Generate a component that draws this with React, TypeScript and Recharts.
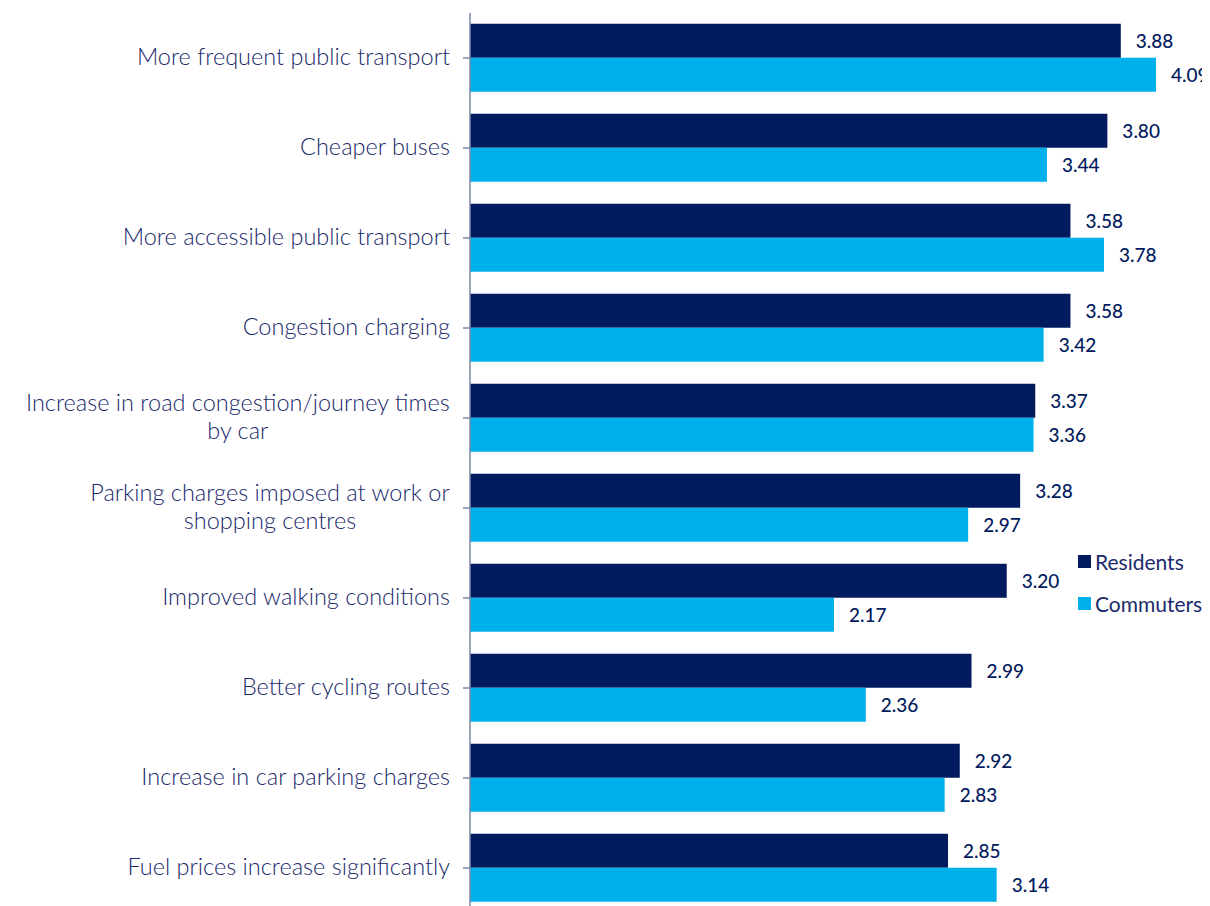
import React from "react";
import { BarChart, Bar, XAxis, YAxis, LabelList, Legend } from "recharts";

if (typeof document !== "undefined") {
  document.body.style.overflow = "hidden";
}

const categories = [
  "More frequent public transport",
  "Cheaper buses",
  "More accessible public transport",
  "Congestion charging ",
  "Increase in road congestion/journey times|by car",
  "Parking charges imposed at work or|shopping centres",
  "Improved walking conditions",
  "Better cycling routes",
  "Increase in car parking charges",
  "Fuel prices increase significantly",
];
const residents = [3.88, 3.8, 3.58, 3.58, 3.37, 3.28, 3.2, 2.99, 2.92, 2.85];
const commuters = [4.09, 3.44, 3.78, 3.42, 3.36, 2.97, 2.17, 2.36, 2.83, 3.14];
const seriesNames = ["Residents", "Commuters"];

const data = categories.map((c, i) => ({
  name: c,
  residents: residents[i],
  commuters: commuters[i],
}));

const NAVY = "#021a5e";
const CYAN = "#00b0ea";
const TEXT = "#1b2a6b";
const FONT = "Lato, 'Open Sans', sans-serif";
const CAT_SIZE = 23.5;

let ctx: CanvasRenderingContext2D | null = null;
function measure(t: string): number {
  if (!ctx) {
    const c = document.createElement("canvas");
    ctx = c.getContext("2d");
  }
  if (!ctx) return t.length * CAT_SIZE * 0.5;
  ctx.font = `300 ${CAT_SIZE}px Lato`;
  return ctx.measureText(t).width;
}

const CatTick = (props: any) => {
  const { x, y, payload } = props;
  const lines = String(payload.value).split("|");
  const right = x - 11;
  if (lines.length === 1) {
    return (
      <text x={right} y={y} dy={7} textAnchor="end" fill={TEXT} fontFamily={FONT} fontSize={CAT_SIZE} fontWeight={300}>
        {lines[0]}
      </text>
    );
  }
  const w = Math.max(...lines.map(measure));
  const cx = right - w / 2;
  return (
    <text x={cx} y={y} textAnchor="middle" fill={TEXT} fontFamily={FONT} fontSize={CAT_SIZE} fontWeight={300}>
      {lines.map((l, i) => (
        <tspan key={i} x={cx} dy={i === 0 ? -7 : 28}>
          {l}
        </tspan>
      ))}
    </text>
  );
};

const fmt = (v: any) => Number(v).toFixed(2);

const LegendContent = () => (
  <div style={{ fontFamily: FONT, fontSize: 21, color: TEXT }}>
    {seriesNames.map((n, i) => (
      <div key={n} style={{ display: "flex", alignItems: "center", height: 42 }}>
        <div style={{ width: 13, height: 13, background: i === 0 ? NAVY : CYAN, marginRight: 4 }} />
        <span>{n}</span>
      </div>
    ))}
  </div>
);

export default function App() {
  return (
    <div style={{ width: 1202, overflow: "hidden" }}>
      <BarChart
        width={1212}
        height={910}
        data={data}
        layout="vertical"
        margin={{ top: 5, right: 12, bottom: 5, left: 0 }}
        barCategoryGap="12%"
        barGap={0}
      >
        <XAxis type="number" domain={[0, 4.4]} hide />
        <YAxis
          type="category"
          dataKey="name"
          width={462}
          axisLine={{ stroke: "#7b86a8", strokeWidth: 1.5 }}
          tickLine={{ stroke: "#7b86a8", strokeWidth: 1.5 }}
          tickSize={7}
          interval={0}
          tick={<CatTick />}
          scale="band"
        />
        <Legend
          verticalAlign="middle"
          align="center"
          layout="vertical"
          wrapperStyle={{ position: "absolute", left: 1070, top: 532, width: 140 }}
          content={<LegendContent />}
        />
        <Bar dataKey="residents" name="Residents" fill={NAVY} isAnimationActive={false}>
          <LabelList
            dataKey="residents"
            position="right"
            offset={15}
            formatter={fmt}
            fill={NAVY}
            fontFamily={FONT}
            fontSize={19}
            fontWeight={500}
          />
        </Bar>
        <Bar dataKey="commuters" name="Commuters" fill={CYAN} isAnimationActive={false}>
          <LabelList
            dataKey="commuters"
            position="right"
            offset={15}
            formatter={fmt}
            fill={NAVY}
            fontFamily={FONT}
            fontSize={19}
            fontWeight={500}
          />
        </Bar>
      </BarChart>
    </div>
  );
}
